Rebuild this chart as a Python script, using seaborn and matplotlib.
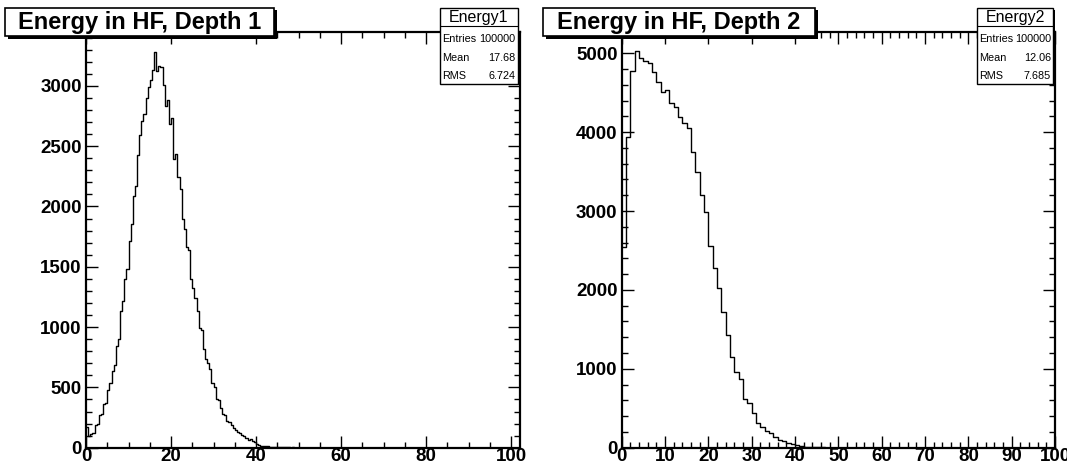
import numpy as np
import pandas as pd
import seaborn as sns
import matplotlib.pyplot as plt
from matplotlib.patches import Rectangle
from matplotlib.ticker import MultipleLocator

# ---------------- data ----------------
titles = ["Energy in HF, Depth 1", "Energy in HF, Depth 2"]
stat_names = ["Energy1", "Energy2"]
entries = ["100000", "100000"]
means = ["17.68", "12.06"]
rmss = ["6.724", "7.685"]

depth1_bin_width = 0.5
depth1_counts = [
    170, 100, 115, 120, 185, 195, 270, 280, 360, 370,          # 0 - 5
    480, 535, 637, 687, 840, 900, 1135, 1220, 1395, 1478,      # 5 - 10
    1712, 1851, 2085, 2168, 2430, 2596, 2710, 2770, 2900, 2990,  # 10 - 15
    3045, 3130, 3280, 3120, 3165, 3160, 3010, 2835, 2880, 2685,  # 15 - 20
    2730, 2395, 2435, 2245, 2145, 1895, 1810, 1660, 1640, 1395,  # 20 - 25
    1326, 1243, 1132, 990, 975, 815, 735, 700, 650, 540,       # 25 - 30
    500, 400, 395, 330, 280, 270, 225, 210, 188, 161,          # 30 - 35
    150, 133, 119, 105, 95, 78, 64, 69, 55, 50,                # 35 - 40
    30, 25, 17, 14, 12, 10, 9, 7, 8, 6,                        # 40 - 45
    5, 4, 4, 3, 2, 2, 1, 2, 1, 1,                              # 45 - 50
]

depth2_bin_width = 1.0
depth2_counts = [
    2550, 3942, 4778, 5028, 4935, 4900, 4870, 4766, 4631, 4513,  # 0 - 10
    4534, 4365, 4314, 4196, 4120, 4049, 3753, 3500, 3204, 2990,  # 10 - 20
    2560, 2280, 2030, 1724, 1428, 1145, 964, 870, 617, 562,      # 20 - 30
    444, 317, 266, 216, 182, 140, 98, 80, 60, 45,                # 30 - 40
    30, 22, 15, 10, 7, 5, 3, 2, 1, 1,                            # 40 - 50
]

x_limits = [(0, 102), (0, 100)]
y_limits = [(0, 3444), (0, 5265)]

# ---------------- figure ----------------
sns.set_theme(style="white")
plt.rcParams["font.family"] = ["Liberation Sans", "DejaVu Sans"]

W, H = 1067, 468
fig = plt.figure(figsize=(W / 100, H / 100), dpi=100)
fig.patch.set_facecolor("white")


def axes_px(x0, x1, y0, y1):
    return fig.add_axes([x0 / W, 1 - y1 / H, (x1 - x0) / W, (y1 - y0) / H])


def fx(x):
    return x / W


def fy(y):
    return 1 - y / H


ax1 = axes_px(86, 519.5, 32.3, 447.7)
ax2 = axes_px(621.7, 1055, 32.3, 447.7)
axes = [ax1, ax2]

datasets = []
for counts, bw in [(depth1_counts, depth1_bin_width), (depth2_counts, depth2_bin_width)]:
    counts = np.asarray(counts, dtype=float)
    n = len(counts)
    centers = (np.arange(n) + 0.5) * bw
    datasets.append((pd.DataFrame({"x": centers, "w": counts}), bw, n * bw))

for i, (ax, (df, bw, hi)) in enumerate(zip(axes, datasets)):
    sns.histplot(data=df, x="x", weights="w", binwidth=bw, binrange=(0, hi),
                 element="step", fill=False, color="black", linewidth=1.0, ax=ax)
    ax.set_xlim(*x_limits[i])
    ax.set_ylim(*y_limits[i])
    ax.set_xlabel("")
    ax.set_ylabel("")
    for s in ax.spines.values():
        s.set_visible(True)
        s.set_color("black")
        s.set_linewidth(1.6)
    ax.tick_params(which="both", direction="in", top=True, right=True,
                   bottom=True, left=True, colors="black")
    ax.tick_params(which="major", length=8.3, width=1.0, labelsize=13.5)
    ax.tick_params(which="minor", length=4.3, width=1.0)
    ax.tick_params(axis="x", which="major", pad=0.5)
    ax.tick_params(axis="y", which="major", pad=3)

ax1.xaxis.set_major_locator(MultipleLocator(20))
ax1.xaxis.set_minor_locator(MultipleLocator(5))
ax1.yaxis.set_major_locator(MultipleLocator(500))
ax1.yaxis.set_minor_locator(MultipleLocator(100))
ax2.xaxis.set_major_locator(MultipleLocator(10))
ax2.xaxis.set_minor_locator(MultipleLocator(2))
ax2.yaxis.set_major_locator(MultipleLocator(1000))
ax2.yaxis.set_minor_locator(MultipleLocator(200))
ax1.set_xticks([0, 20, 40, 60, 80, 100])
for ax in axes:
    for lab in ax.get_xticklabels() + ax.get_yticklabels():
        lab.set_fontweight("bold")


def shadow_box(x0, y0, x1, y1, shadow=2.5, lw=1.2):
    sh = Rectangle((fx(x0 + shadow), fy(y1 + shadow)), fx(x1 - x0), (y1 - y0) / H,
                   transform=fig.transFigure, facecolor="black", edgecolor="black",
                   linewidth=0, zorder=10)
    bx = Rectangle((fx(x0), fy(y1)), fx(x1 - x0), (y1 - y0) / H,
                   transform=fig.transFigure, facecolor="white", edgecolor="black",
                   linewidth=lw, zorder=11)
    fig.add_artist(sh)
    fig.add_artist(bx)


# title boxes
title_boxes = [(5, 8, 274, 36), (543, 8, 815, 36)]
for (x0, y0, x1, y1), t in zip(title_boxes, titles):
    shadow_box(x0, y0, x1, y1)
    fig.text(fx((x0 + x1) / 2), fy((y0 + y1) / 2 + 0.5), t, ha="center", va="center",
             fontsize=17, fontweight="bold", color="black", zorder=12)

# stats boxes
stat_boxes = [(440, 8, 517.5, 83.5), (977, 8, 1053, 83.5)]
for (x0, y0, x1, y1), name, ent, mn, rms in zip(stat_boxes, stat_names, entries, means, rmss):
    shadow_box(x0, y0, x1, y1, shadow=1.8, lw=1.0)
    sep = y0 + 18
    fig.add_artist(plt.Line2D([fx(x0), fx(x1)], [fy(sep), fy(sep)],
                              transform=fig.transFigure, color="black",
                              linewidth=0.8, zorder=12))
    fig.text(fx((x0 + x1) / 2), fy(y0 + 9.5), name, ha="center", va="center",
             fontsize=11.5, color="black", zorder=12)
    rows = [("Entries", ent), ("Mean", mn), ("RMS", rms)]
    for k, (a, b) in enumerate(rows):
        yy = 39.3 + k * 18.4
        fig.text(fx(x0 + 2.5), fy(yy), a, ha="left", va="center", fontsize=7.8,
                 color="black", zorder=12)
        fig.text(fx(x1 - 2), fy(yy), b, ha="right", va="center", fontsize=7.8,
                 color="black", zorder=12)

fig.savefig("out.png", dpi=100, facecolor="white")
